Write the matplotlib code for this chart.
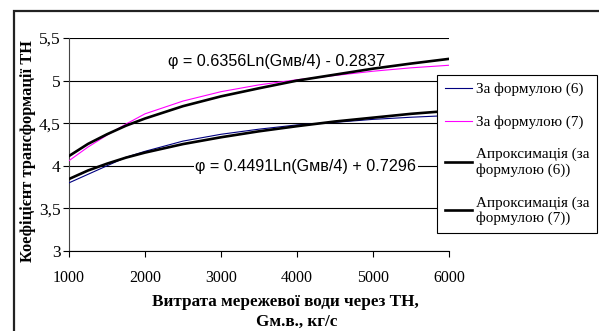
import numpy as np
import matplotlib
matplotlib.use("Agg")
import matplotlib.pyplot as plt
from matplotlib.patches import Rectangle

# flow of network water, kg/s
g = [1000, 1250, 1500, 1750, 2000, 2500, 3000, 3500, 4000, 4500, 5000, 5500, 6000]
# transformation coefficient
phi_f6 = [3.80, 3.90, 4.00, 4.10, 4.17, 4.29, 4.37, 4.43, 4.48, 4.51, 4.545, 4.57, 4.59]
phi_f7 = [4.06, 4.22, 4.36, 4.49, 4.61, 4.76, 4.87, 4.95, 5.01, 5.06, 5.11, 5.15, 5.18]
approx_f6 = [3.845, 3.945, 4.025, 4.096, 4.155, 4.255, 4.335, 4.405, 4.465, 4.52, 4.565, 4.61, 4.645]
approx_f7 = [4.115, 4.257, 4.37, 4.471, 4.555, 4.70, 4.815, 4.91, 5.0, 5.07, 5.14, 5.2, 5.255]

labels = ["За формулою (6)", "За формулою (7)",
          "Апроксимація (за\nформулою (6))", "Апроксимація (за\nформулою (7))"]
eq6 = "φ = 0.4491Ln(Gмв/4) + 0.7296"
eq7 = "φ = 0.6356Ln(Gмв/4) - 0.2837"
xticks = [1000, 2000, 3000, 4000, 5000, 6000]
yticks = [3, 3.5, 4, 4.5, 5, 5.5]
yticklabels = ["3", "3,5", "4", "4,5", "5", "5,5"]

serif = "Liberation Serif"
sans = "Liberation Sans"

fig = plt.figure(figsize=(5.99, 3.31), dpi=100)
fig.patch.set_facecolor("white")

# outer chart frame (right and bottom edges fall outside the picture)
fig.patches.append(Rectangle((14 / 599, -0.2), 1.2, 1.2 - 11 / 331,
                             transform=fig.transFigure, fill=False,
                             edgecolor="#222222", lw=1.6))

ax = fig.add_axes([69 / 599, 1 - 251 / 331, 380 / 599, 213 / 331])

ax.plot(g, phi_f6, color="#000080", lw=0.8, label=labels[0], zorder=3)
ax.plot(g, phi_f7, color="#ff00ff", lw=0.8, label=labels[1], zorder=3)
ax.plot(g, approx_f6, color="black", lw=1.9, label=labels[2], zorder=4)
ax.plot(g, approx_f7, color="black", lw=1.9, label=labels[3], zorder=4)

ax.set_xlim(1000, 6000)
ax.set_ylim(3, 5.5)
ax.set_xticks(xticks)
ax.set_yticks(yticks)
ax.set_yticklabels(yticklabels)
ax.grid(axis="y", color="black", lw=0.8)
ax.set_axisbelow(True)
for s in ["top", "right"]:
    ax.spines[s].set_visible(False)
ax.spines["left"].set_color("#444444")
ax.spines["bottom"].set_color("black")
ax.tick_params(axis="x", direction="out", length=4, pad=10, labelsize=11.5)
ax.tick_params(axis="y", direction="out", length=4, pad=2, labelsize=12.5)
for t in ax.get_xticklabels() + ax.get_yticklabels():
    t.set_fontfamily(serif)

ax.text(3730, 5.22, eq7, ha="center", va="center", fontsize=11.6,
        family=sans, zorder=5)
ax.text(4118, 3.99, eq6, ha="center", va="center", fontsize=11.6,
        family=sans, zorder=5,
        bbox=dict(facecolor="white", edgecolor="none", pad=1))

leg = fig.legend(loc="upper left", bbox_to_anchor=(437 / 599, 1 - 75 / 331),
                 prop={"family": serif, "size": 10.9}, frameon=True,
                 fancybox=False, framealpha=1, edgecolor="black",
                 labelspacing=1.25, borderpad=0.5, handlelength=1.8,
                 handletextpad=0.25, borderaxespad=0)
leg.get_frame().set_linewidth(0.8)

fig.text(285 / 599, 1 - 302 / 331, "Витрата мережевої води через ТН,",
         ha="center", va="center", fontsize=12.3, fontweight="bold", family=serif)
fig.text(297 / 599, 1 - 322 / 331, "Gм.в., кг/с",
         ha="center", va="center", fontsize=12.3, fontweight="bold", family=serif)
fig.text(28 / 599, 1 - 151 / 331, "Коефіцієнт трансформації ТН",
         rotation=90, ha="center", va="center", fontsize=11.8,
         fontweight="bold", family=serif)

fig.savefig("out.png", dpi=100)
